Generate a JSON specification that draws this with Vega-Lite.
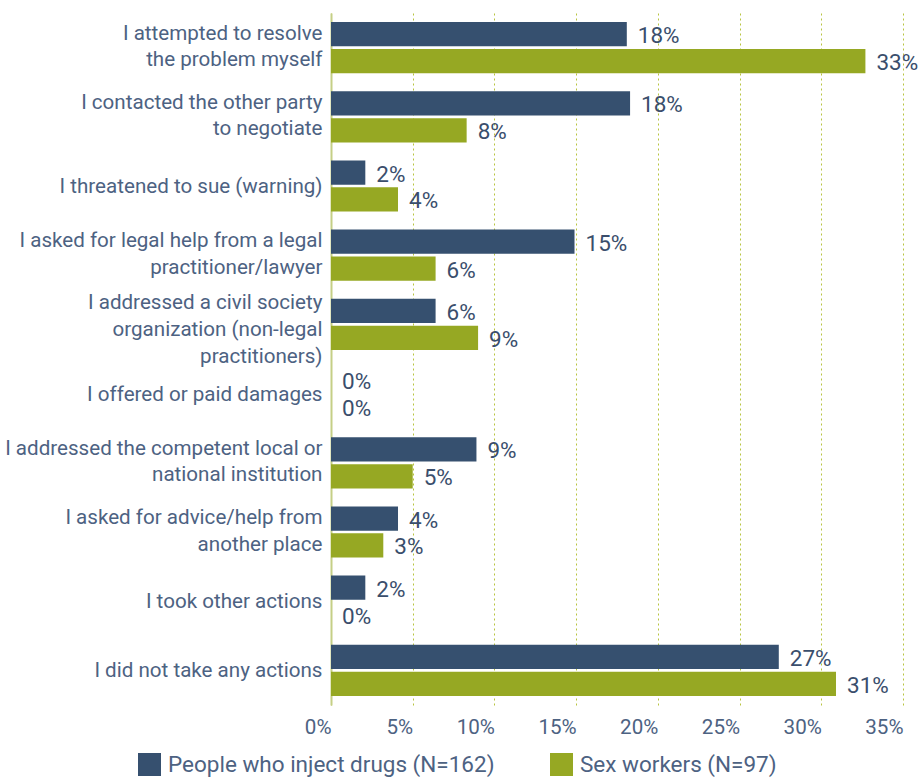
{
  "$schema": "https://vega.github.io/schema/vega-lite/v6.json",
  "width": 572,
  "height": 692,
  "autosize": {"type": "none"},
  "padding": {"left": 331, "top": 13, "right": 18, "bottom": 78},
  "background": "white",
  "config": {
    "view": {"stroke": null},
    "font": "Roboto",
    "text": {"font": "Roboto"}
  },
  "data": {
    "values": [
      {"action": "I attempted to resolve|the problem myself", "order": 1, "group": "People who inject drugs (N=162)", "value": 0.181},
      {"action": "I attempted to resolve|the problem myself", "order": 1, "group": "Sex workers (N=97)", "value": 0.327},
      {"action": "I contacted the other party|to negotiate", "order": 2, "group": "People who inject drugs (N=162)", "value": 0.183},
      {"action": "I contacted the other party|to negotiate", "order": 2, "group": "Sex workers (N=97)", "value": 0.083},
      {"action": "I threatened to sue (warning)", "order": 3, "group": "People who inject drugs (N=162)", "value": 0.021},
      {"action": "I threatened to sue (warning)", "order": 3, "group": "Sex workers (N=97)", "value": 0.041},
      {"action": "I asked for legal help from a legal|practitioner/lawyer", "order": 4, "group": "People who inject drugs (N=162)", "value": 0.149},
      {"action": "I asked for legal help from a legal|practitioner/lawyer", "order": 4, "group": "Sex workers (N=97)", "value": 0.064},
      {"action": "I addressed a civil society|organization (non-legal|practitioners)", "order": 5, "group": "People who inject drugs (N=162)", "value": 0.064},
      {"action": "I addressed a civil society|organization (non-legal|practitioners)", "order": 5, "group": "Sex workers (N=97)", "value": 0.09},
      {"action": "I offered or paid damages", "order": 6, "group": "People who inject drugs (N=162)", "value": 0},
      {"action": "I offered or paid damages", "order": 6, "group": "Sex workers (N=97)", "value": 0},
      {"action": "I addressed the competent local or|national institution", "order": 7, "group": "People who inject drugs (N=162)", "value": 0.089},
      {"action": "I addressed the competent local or|national institution", "order": 7, "group": "Sex workers (N=97)", "value": 0.05},
      {"action": "I asked for advice/help from|another place", "order": 8, "group": "People who inject drugs (N=162)", "value": 0.041},
      {"action": "I asked for advice/help from|another place", "order": 8, "group": "Sex workers (N=97)", "value": 0.032},
      {"action": "I took other actions", "order": 9, "group": "People who inject drugs (N=162)", "value": 0.021},
      {"action": "I took other actions", "order": 9, "group": "Sex workers (N=97)", "value": 0},
      {"action": "I did not take any actions", "order": 10, "group": "People who inject drugs (N=162)", "value": 0.274},
      {"action": "I did not take any actions", "order": 10, "group": "Sex workers (N=97)", "value": 0.309}
    ]
  },
  "encoding": {
    "y": {
      "field": "action",
      "type": "nominal",
      "sort": {"field": "order", "op": "min", "order": "ascending"},
      "scale": {"paddingInner": 0.26, "paddingOuter": 0.13},
      "axis": {
        "title": null,
        "ticks": false,
        "domain": true,
        "domainColor": "#c5cf86",
        "domainWidth": 2,
        "labelExpr": "split(datum.label, '|')",
        "labelFontSize": 20.6,
        "labelColor": "#4d6282",
        "labelPadding": 9,
        "labelLineHeight": 26.7,
        "labelLimit": 400,
        "labelOffset": {
          "condition": [
            {"test": "length(split(datum.value, '|')) == 3", "value": -21},
            {"test": "length(split(datum.value, '|')) == 2", "value": -14}
          ],
          "value": 1
        }
      }
    },
    "yOffset": {
      "field": "group",
      "type": "nominal",
      "scale": {"paddingInner": 0.1}
    },
    "x": {
      "field": "value",
      "type": "quantitative",
      "scale": {"domain": [0, 0.35], "nice": false},
      "axis": {
        "title": null,
        "format": ".0%",
        "values": [0, 0.05, 0.1, 0.15, 0.2, 0.25, 0.3, 0.35],
        "domain": false,
        "ticks": false,
        "grid": true,
        "gridColor": "#b8c440",
        "gridDash": [2, 3],
        "gridWidth": 1,
        "labelFontSize": 20.6,
        "labelColor": "#4d6282",
        "labelAlign": "right",
        "labelDx": -1,
        "labelPadding": 12,
        "labelFlush": false
      }
    }
  },
  "layer": [
    {
      "mark": {"type": "bar"},
      "encoding": {
        "color": {
          "field": "group",
          "type": "nominal",
          "scale": {"domain": ["People who inject drugs (N=162)", "Sex workers (N=97)"], "range": ["#36506f", "#96a823"]},
          "legend": {
            "title": null,
            "orient": "none",
            "direction": "horizontal",
            "legendX": -193,
            "legendY": 740,
            "symbolType": "square",
            "symbolSize": 529,
            "symbolStrokeWidth": 0,
            "symbolOpacity": 1,
            "labelFontSize": 22.5,
            "labelColor": "#4d6282",
            "labelOffset": 7,
            "columnPadding": 55,
            "labelLimit": 400
          }
        }
      }
    },
    {
      "mark": {"type": "text", "align": "left", "baseline": "middle", "dx": 11, "dy": 2, "fontSize": 22.5, "fontWeight": "normal", "color": "#3a4e6c"},
      "encoding": {
        "text": {"field": "value", "type": "quantitative", "format": ".0%"}
      }
    }
  ]
}
